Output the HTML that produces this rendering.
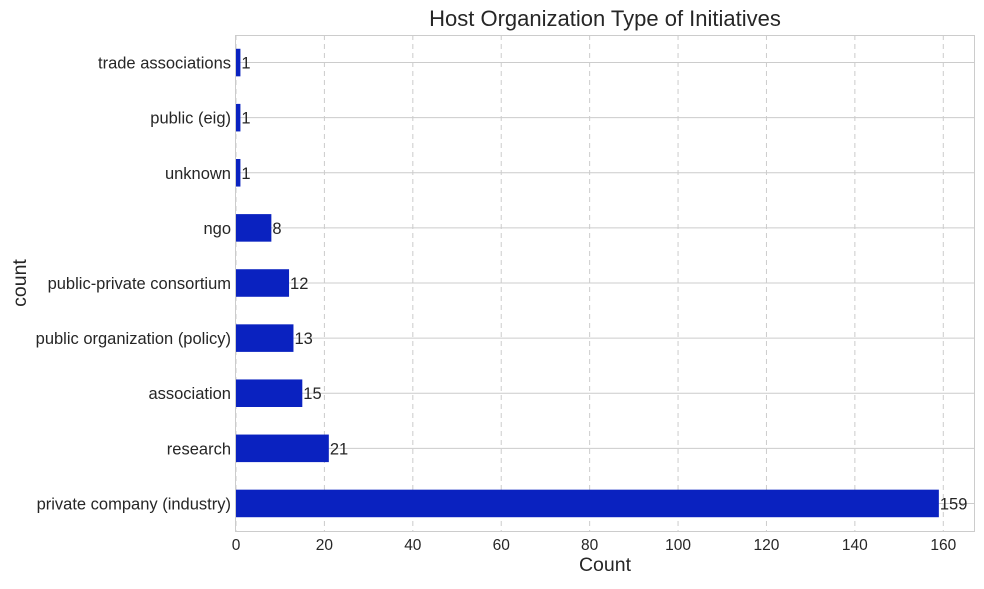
<!DOCTYPE html>
<html><head><meta charset="utf-8"><style>
html,body{margin:0;padding:0;background:#fff;}
svg text{font-family:"Liberation Sans",Arial,sans-serif;fill:#262626;}
</style></head><body>
<svg id="chart" width="984" height="584" xmlns="http://www.w3.org/2000/svg">
<rect width="984" height="584" fill="#fff"/>
<g id="grid"></g>
<g id="bars"></g>
<g id="labels"></g>
<rect x="235.5" y="35.5" width="739" height="496" fill="none" stroke="#cccccc" stroke-width="1"/>
<text x="605" y="26" font-size="22" text-anchor="middle">Host Organization Type of Initiatives</text>
<text x="605" y="571" font-size="19.5" text-anchor="middle">Count</text>
<text x="26" y="283" font-size="19.5" text-anchor="middle" transform="rotate(-90 26 283)">count</text>
</svg>
<script>
const categories = ["private company (industry)","research","association","public organization (policy)","public-private consortium","ngo","unknown","public (eig)","trade associations"];
const values = [159,21,15,13,12,8,1,1,1];
const xTicks = [0,20,40,60,80,100,120,140,160];
const plotLeft=236, plotRight=974, plotTop=35, plotBottom=531;
const xMax = Math.max(...values)*1.05;
const xs = v => plotLeft + v/xMax*(plotRight-plotLeft);
const band = (plotBottom-plotTop)/categories.length;
const ys = i => plotBottom - band*(i+0.5);
const NS="http://www.w3.org/2000/svg";
function mk(tag, attrs, parent){const e=document.createElementNS(NS,tag);for(const k in attrs)e.setAttribute(k,attrs[k]);parent.appendChild(e);return e;}
const grid=document.getElementById('grid'), bars=document.getElementById('bars'), labels=document.getElementById('labels');
xTicks.forEach(t=>{
  const l=mk('line',{x1:xs(t),x2:xs(t),y1:plotTop,y2:plotBottom,stroke:'#cccccc','stroke-width':1,'stroke-dasharray':'5,4'},grid);
  
  
  const tx=mk('text',{x:xs(t),y:plotBottom+19,'font-size':15.5,'text-anchor':'middle'},labels);
  tx.textContent=t;
  
  
});
categories.forEach((c,i)=>{
  const g=mk('line',{x1:plotLeft,x2:plotRight,y1:ys(i),y2:ys(i),stroke:'#cccccc','stroke-width':1},grid);
  
  
  const r=mk('rect',{x:xs(0),y:ys(i)-band*0.25,width:xs(values[i])-xs(0),height:band*0.5,fill:'#0a22c0'},bars);
  
  
  const lt=mk('text',{x:plotLeft-5,y:ys(i)+6,'font-size':16.5,'text-anchor':'end'},labels);
  lt.textContent=c;
  
  
  const vt=mk('text',{x:xs(values[i])+1,y:ys(i)+6,'font-size':16.5},labels);
  vt.textContent=values[i];
  
  
});
</script>
</body></html>
